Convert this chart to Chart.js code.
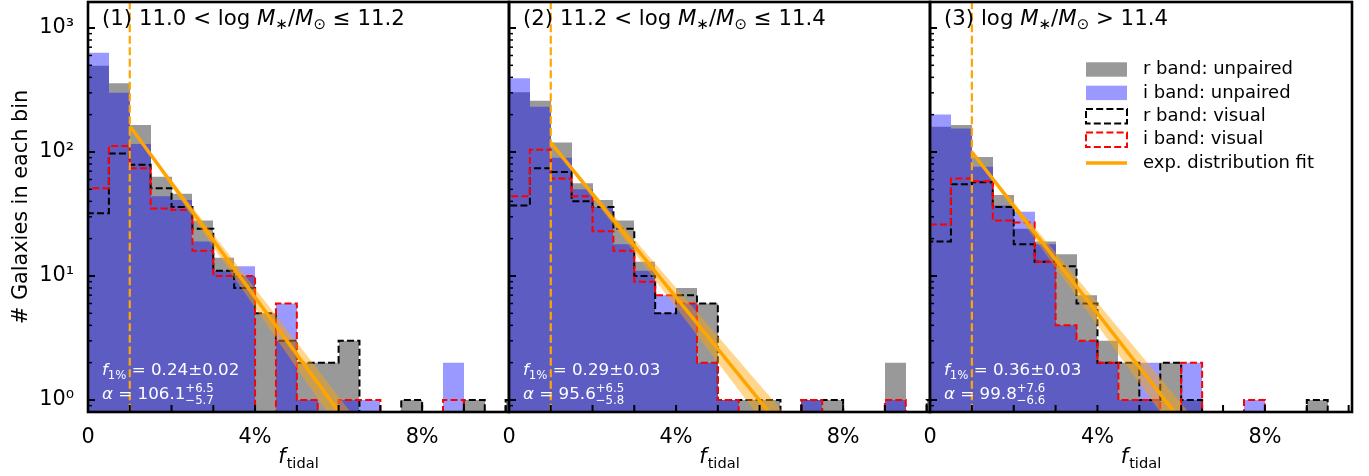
<!DOCTYPE html>
<html>
<head>
<meta charset="utf-8">
<script src="https://cdn.jsdelivr.net/npm/chart.js@4/dist/chart.umd.min.js"></script>
<style>
html, body { margin: 0; padding: 0; background: #fff; }
#wrap { position: relative; width: 1369px; height: 476px; }
#wrap canvas { position: absolute; left: 0; top: 0; }
</style>
</head>
<body>
<div id="wrap">
  <canvas id="p1" width="1369" height="476"></canvas>
  <canvas id="p2" width="1369" height="476"></canvas>
  <canvas id="p3" width="1369" height="476"></canvas>
</div>
<script>
// bins: left edges in %, width 0.5%
const binLeft = [0, 0.5, 1, 1.5, 2, 2.5, 3, 3.5, 4, 4.5, 5, 5.5, 6, 6.5, 7, 7.5, 8, 8.5, 9, 9.5, 10];
const binWidth = 0.5;

// (1) 11.0 < log M/Msun <= 11.2
const rUnpaired1 = [497, 358, 165, 63, 46, 28, 14, 10, 5, 3, 2, 2, 3, 0, 0, 1, 0, 0, 1, 0, 1];
const iUnpaired1 = [631, 300, 116, 44, 41, 19, 11, 12, 0, 6, 1, 0, 1, 1, 0, 0, 0, 2, 0, 0, 0];
const rVisual1   = [32, 97, 79, 51, 36, 24, 11, 8, 5, 3, 2, 2, 3, 0, 0, 1, 0, 0, 1, 0, 1];
const iVisual1   = [51, 112, 74, 35, 34, 16, 10, 10, 0, 6, 1, 0, 1, 1, 0, 0, 0, 1, 0, 0, 0];

// (2) 11.2 < log M/Msun <= 11.4
const rUnpaired2 = [303, 259, 119, 56, 41, 28, 13, 5, 8, 6, 1, 1, 1, 0, 1, 1, 0, 0, 2, 0, 1];
const iUnpaired2 = [393, 232, 90, 50, 36, 18, 11, 7, 6, 2, 1, 0, 0, 0, 1, 0, 0, 0, 1, 0, 0];
const rVisual2   = [37, 74, 69, 40, 36, 24, 10, 5, 7, 6, 1, 1, 1, 0, 1, 1, 0, 0, 0, 0, 1];
const iVisual2   = [44, 104, 61, 44, 23, 16, 9, 7, 6, 2, 1, 0, 0, 0, 1, 0, 0, 0, 1, 0, 0];

// (3) log M/Msun > 11.4
const rUnpaired3 = [160, 165, 91, 45, 24, 19, 15, 7, 3, 2, 1, 2, 1, 0, 0, 0, 0, 0, 1, 0, 0];
const iUnpaired3 = [201, 155, 76, 37, 33, 18, 4, 3, 2, 1, 2, 0, 2, 0, 0, 1, 0, 0, 0, 0, 0];
const rVisual3   = [19, 55, 57, 36, 18, 13, 12, 6, 2, 2, 1, 2, 1, 0, 0, 0, 0, 0, 1, 0, 0];
const iVisual3   = [26, 61, 58, 28, 27, 13, 4, 3, 2, 1, 1, 0, 2, 0, 0, 1, 0, 0, 0, 0, 0];

// exponential fit, read at x = 1% and x = 7% (line, upper and lower edge of band)
const fitX = [1, 7];
const fitLine = [[162, 0.28], [119, 0.38], [100, 0.25]];
const fitHigh = [[162, 0.39], [119, 0.54], [100, 0.37]];
const fitLow  = [[162, 0.19], [119, 0.26], [100, 0.16]];
const cutX = 1;

const fValues = ['0.24±0.02', '0.29±0.03', '0.36±0.03'];
const alphaValues = ['106.1', '95.6', '99.8'];
const alphaPlus = ['+6.5', '+6.5', '+7.6'];
const alphaMinus = ['−5.7', '−5.8', '−6.6'];
const titleLeft = ['(1) 11.0 < ', '(2) 11.2 < ', '(3) '];
const titleRight = [' ≤ 11.2', ' ≤ 11.4', ' > 11.4'];

const xTickValues = [0, 1, 2, 3, 4, 5, 6, 7, 8, 9, 10];
const xTickLabels = ['0', '', '', '', '4%', '', '', '', '8%', '', ''];
const yTickValues = [1, 10, 100, 1000];
const yTickLabels = ['10⁰', '10¹', '10²', '10³'];

const legendLabels = ['r band: unpaired', 'i band: unpaired', 'r band: visual', 'i band: visual', 'exp. distribution fit'];

const FF = "'DejaVu Sans'";
const GRAY = 'rgba(128,128,128,0.8)';
const BLUE = 'rgba(0,0,255,0.4)';
const ORANGE = '#ffa500';
const FLOOR = 0.05;

const panels = [
  {r: rUnpaired1, i: iUnpaired1, rv: rVisual1, iv: iVisual1, left: 0, right: 860, yWidth: 88},
  {r: rUnpaired2, i: iUnpaired2, rv: rVisual2, iv: iVisual2, left: 509, right: 439, yWidth: 0},
  {r: rUnpaired3, i: iUnpaired3, rv: rVisual3, iv: iVisual3, left: 930, right: 17, yWidth: 0}
];

function barData(counts) {
  return counts.map((v, k) => ({x: binLeft[k] + binWidth / 2, y: v > 0 ? v : null}));
}
function stepData(counts) {
  const pts = [{x: binLeft[0], y: FLOOR}];
  counts.forEach((v, k) => pts.push({x: binLeft[k], y: v > 0 ? v : FLOOR}));
  pts.push({x: binLeft[binLeft.length - 1] + binWidth, y: FLOOR});
  return pts;
}
function pairs(ys) {
  return fitX.map((x, k) => ({x: x, y: ys[k]}));
}

function rich(ctx, x, y, parts) {
  for (const p of parts) {
    ctx.font = p.font;
    ctx.fillText(p.t, x, y + (p.dy || 0));
    x += ctx.measureText(p.t).width + (p.gap || 0);
  }
  return x;
}
function richWidth(ctx, parts) {
  let w = 0;
  for (const p of parts) { ctx.font = p.font; w += ctx.measureText(p.t).width + (p.gap || 0); }
  return w;
}

// snap histogram bar edges to whole pixels so neighbouring bins don't show seams
const snapBars = {
  id: 'snapBars',
  beforeDatasetsDraw(chart) {
    chart.getSortedVisibleDatasetMetas().forEach(meta => {
      if (meta.type !== 'bar') return;
      meta.data.forEach(el => {
        const l = Math.round(el.x - el.width / 2), r = Math.round(el.x + el.width / 2);
        el.x = (l + r) / 2;
        el.width = r - l;
      });
    });
  }
};

function panelPlugin(idx) {
  return {
    id: 'panel' + idx,
    afterDraw(chart) {
      const {ctx, chartArea: a, scales: {x, y}} = chart;
      ctx.save();
      ctx.strokeStyle = '#000';
      // inward ticks
      ctx.lineWidth = 2;
      xTickValues.forEach(v => {
        if (v <= 0) return;
        const px = x.getPixelForValue(v);
        ctx.beginPath(); ctx.moveTo(px, a.bottom); ctx.lineTo(px, a.bottom - 7); ctx.stroke();
      });
      for (let e = -1; e <= 3; e++) {
        for (let m = 1; m <= 9; m++) {
          const v = m * Math.pow(10, e);
          if (v <= y.min * 1.001 || v >= y.max) continue;
          const py = y.getPixelForValue(v);
          ctx.lineWidth = m === 1 ? 2 : 1.5;
          ctx.beginPath(); ctx.moveTo(a.left, py); ctx.lineTo(a.left + (m === 1 ? 7 : 4), py); ctx.stroke();
        }
      }
      // frame
      ctx.lineWidth = 2.6;
      ctx.strokeRect(a.left, a.top, a.width, a.height);

      // panel title
      const big = '21.3px ' + FF, bigI = 'italic 21.3px ' + FF, sm = '15px ' + FF;
      ctx.fillStyle = '#000';
      ctx.textBaseline = 'alphabetic';
      ctx.textAlign = 'left';
      rich(ctx, a.left + 14, a.top + 23, [
        {t: titleLeft[idx] + 'log ', font: big},
        {t: 'M', font: bigI},
        {t: '∗', font: sm, dy: 4},
        {t: '/', font: big},
        {t: 'M', font: bigI},
        {t: '⊙', font: sm, dy: 4},
        {t: titleRight[idx], font: big}
      ]);

      // fit annotation
      const an = '16.7px ' + FF, anI = 'italic 16.7px ' + FF, anS = '11.7px ' + FF;
      ctx.fillStyle = '#fff';
      rich(ctx, a.left + 14, a.bottom - 37, [
        {t: 'f', font: anI},
        {t: '1%', font: anS, dy: 4},
        {t: ' = ' + fValues[idx], font: an}
      ]);
      const ax = rich(ctx, a.left + 14, a.bottom - 13, [
        {t: 'α', font: anI},
        {t: ' = ' + alphaValues[idx], font: an}
      ]);
      ctx.font = anS;
      ctx.fillText(alphaPlus[idx], ax, a.bottom - 20);
      ctx.fillText(alphaMinus[idx], ax, a.bottom - 8);

      // x title
      ctx.fillStyle = '#000';
      const xt = [{t: 'f', font: 'italic 20.8px ' + FF, gap: 1}, {t: 'tidal', font: '14.6px ' + FF, dy: 5}];
      const w = richWidth(ctx, xt);
      rich(ctx, (a.left + a.right) / 2 - w / 2, 463, xt);

      // legend in the last panel
      if (idx === 2) {
        const lx = a.left + 156, pw = 41, ph = 14.4;
        ctx.font = '18px ' + FF;
        ctx.textBaseline = 'middle';
        legendLabels.forEach((lab, k) => {
          const cy = a.top + 67.5 + 23.4 * k;
          ctx.setLineDash([]);
          if (k === 0) { ctx.fillStyle = GRAY; ctx.fillRect(lx, cy - ph / 2, pw, ph); }
          if (k === 1) { ctx.fillStyle = BLUE; ctx.fillRect(lx, cy - ph / 2, pw, ph); }
          if (k === 2 || k === 3) {
            ctx.strokeStyle = k === 2 ? '#000' : '#ff0000';
            ctx.lineWidth = 2;
            ctx.setLineDash([7, 3.2]);
            ctx.strokeRect(lx, cy - ph / 2, pw, ph);
            ctx.setLineDash([]);
          }
          if (k === 4) {
            ctx.strokeStyle = ORANGE; ctx.lineWidth = 3.5;
            ctx.beginPath(); ctx.moveTo(lx, cy); ctx.lineTo(lx + pw, cy); ctx.stroke();
          }
          ctx.fillStyle = '#000';
          ctx.fillText(lab, lx + 57, cy);
        });
      }
      ctx.restore();
    }
  };
}

panels.forEach((p, idx) => {
  const first = idx === 0;
  new Chart(document.getElementById('p' + (idx + 1)), {
    type: 'bar',
    data: {
      datasets: [
        {type: 'line', data: pairs(fitLine[idx]), borderColor: ORANGE, borderWidth: 3.5, pointRadius: 0, order: 0},
        {type: 'line', data: pairs(fitHigh[idx]), borderColor: 'transparent', borderWidth: 1, pointRadius: 0,
          backgroundColor: 'rgba(255,165,0,0.45)', fill: '+1', order: 1},
        {type: 'line', data: pairs(fitLow[idx]), borderColor: 'transparent', borderWidth: 1, pointRadius: 0, fill: false, order: 1},
        {type: 'line', data: [{x: cutX, y: FLOOR}, {x: cutX, y: 1e5}], borderColor: ORANGE, borderWidth: 2.2,
          borderDash: [8, 3.5], pointRadius: 0, order: 2},
        {type: 'line', data: stepData(p.iv), stepped: true, borderColor: '#ff0000', borderWidth: 2,
          borderDash: [7, 3.2], pointRadius: 0, fill: false, order: 3},
        {type: 'line', data: stepData(p.rv), stepped: true, borderColor: '#000', borderWidth: 2,
          borderDash: [7, 3.2], pointRadius: 0, fill: false, order: 4},
        {data: barData(p.i), backgroundColor: BLUE, borderWidth: 0, grouped: false, inflateAmount: 0,
          barPercentage: 1, categoryPercentage: 1, order: 5},
        {data: barData(p.r), backgroundColor: GRAY, borderWidth: 0, grouped: false, inflateAmount: 0,
          barPercentage: 1, categoryPercentage: 1, order: 6}
      ]
    },
    options: {
      responsive: false,
      animation: false,
      events: [],
      layout: {padding: {left: p.left, right: p.right, top: 2, bottom: 0}},
      plugins: {legend: {display: false}, tooltip: {enabled: false}},
      scales: {
        x: {
          type: 'linear', min: 0, max: 10.08, offset: false,
          grid: {display: false}, border: {display: false},
          afterBuildTicks: s => { s.ticks = xTickValues.map(v => ({value: v})); },
          ticks: {
            color: '#000', font: {family: FF, size: 20.8}, padding: 5,
            maxRotation: 0, autoSkip: false,
            callback: v => xTickLabels[xTickValues.indexOf(v)] || ''
          },
          afterFit: s => { s.height = 64; s.paddingLeft = 0; s.paddingRight = 0; }
        },
        y: {
          type: 'logarithmic', min: 0.8, max: 1620,
          grid: {display: false}, border: {display: false},
          afterBuildTicks: s => { s.ticks = yTickValues.map(v => ({value: v})); },
          ticks: {
            display: first, color: '#000', font: {family: FF, size: 20.8}, padding: 6,
            autoSkip: false,
            callback: (v, k) => yTickLabels[k]
          },
          title: {display: first, text: '# Galaxies in each bin', color: '#000',
            font: {family: FF, size: 20.8}, padding: {top: 9, bottom: 0}},
          afterFit: s => { s.width = p.yWidth; s.paddingTop = 0; s.paddingBottom = 0; }
        }
      }
    },
    plugins: [snapBars, panelPlugin(idx)]
  });
});
</script>
</body>
</html>
